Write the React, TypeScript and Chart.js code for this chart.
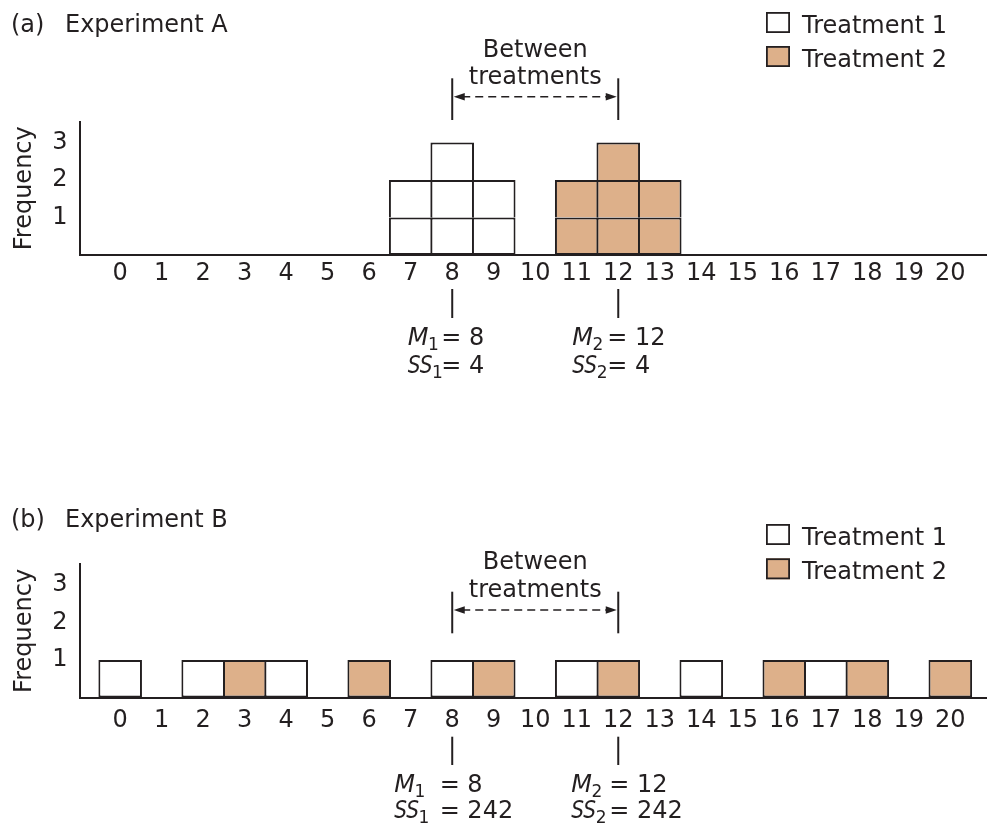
import React, { useEffect, useRef } from 'react';
import { Chart, registerables } from 'chart.js';

Chart.register(...registerables);

// ---------- data ----------
const xTicks = [0, 1, 2, 3, 4, 5, 6, 7, 8, 9, 10, 11, 12, 13, 14, 15, 16, 17, 18, 19, 20];
const yTicks = [1, 2, 3];
const xMin = -0.98;
const xMax = 20.86;
const yMax = 3.56;

// individual scores
const expATreatment1 = [7, 7, 8, 8, 8, 9, 9];
const expATreatment2 = [11, 11, 12, 12, 12, 13, 13];
const expBTreatment1 = [0, 2, 4, 8, 11, 14, 17];
const expBTreatment2 = [3, 6, 9, 12, 16, 18, 20];

const treatmentLabels = ['Treatment 1', 'Treatment 2'];
const treatmentColors = ['#ffffff', '#ddb08a'];
const panelLetters = ['(a)', '(b)'];
const panelNames = ['Experiment A', 'Experiment B'];
const yAxisTitle = 'Frequency';
const betweenLines = ['Between', 'treatments'];
const meanSymbol = 'M';
const ssSymbol = 'SS';

// ---------- style / layout ----------
const INK = '#231f20';
const FAMILY = '"DejaVu Sans", sans-serif';
const W = 988;
const H = 412;
const X_AXIS_H = 40;

const PANEL_LAYOUT = [
  {
    chartTop: 121.5, chartBottom: 255, xTickPad: 4, titleBase: 32, legendBase: 33, legendGap: 34,
    betweenBase: [56.7, 84], arrowY: 96.7, bracketTop: 78.3, bracketBottom: 120,
    markTop: 289, markBottom: 318, mBase: 345, ssBase: 373.3,
    nameOff: [-44.5, -46], eqOff: [-9, -9],
  },
  {
    chartTop: 152.3, chartBottom: 285.5, xTickPad: 9, titleBase: 114.7, legendBase: 133, legendGap: 34.3,
    betweenBase: [157.3, 185.3], arrowY: 198, bracketTop: 179.7, bracketBottom: 221.3,
    markTop: 324.7, markBottom: 353, mBase: 379.7, ssBase: 406,
    nameOff: [-58, -47], eqOff: [-10.6, -7],
  },
];

const groupsByPanel = [
  [expATreatment1, expATreatment2],
  [expBTreatment1, expBTreatment2],
];

const mean = (a: number[]) => a.reduce((s, v) => s + v, 0) / a.length;
const sumSq = (a: number[]) => {
  const m = mean(a);
  return a.reduce((s, v) => s + (v - m) * (v - m), 0);
};
const fmt = (v: number) => String(Math.round(v * 100) / 100);

function layersFromScores(scores: number[]) {
  const counts = new Map<number, number>();
  scores.forEach((s) => counts.set(s, (counts.get(s) || 0) + 1));
  const maxC = Math.max(...Array.from(counts.values()));
  const layers: { x: number; y: number }[][] = [];
  for (let k = 1; k <= maxC; k++) {
    layers.push(
      Array.from(counts.entries())
        .filter(([, c]) => c >= k)
        .map(([x]) => ({ x, y: 1 }))
    );
  }
  return layers;
}

function buildDatasets(groups: number[][]) {
  const ds: any[] = [];
  groups.forEach((scores, t) => {
    layersFromScores(scores).forEach((data, k) => {
      ds.push({
        label: `${treatmentLabels[t]} ${k + 1}`,
        data,
        backgroundColor: treatmentColors[t],
        borderColor: INK,
        borderWidth: { top: 2, left: 2, right: 2, bottom: k === 0 ? 2 : 0 },
        borderSkipped: false,
        barPercentage: 1.05,
        categoryPercentage: 1,
      });
    });
  });
  return ds;
}

function font(size: number, style = '') {
  return `${style} ${size}px ${FAMILY}`.trim();
}

function annotationPlugin(idx: number) {
  const p = PANEL_LAYOUT[idx];
  const groups = groupsByPanel[idx];
  return {
    id: 'annot' + idx,
    afterDraw(chart: any) {
      const ctx: CanvasRenderingContext2D = chart.ctx;
      const xs = chart.scales.x;
      ctx.save();
      ctx.textBaseline = 'alphabetic';
      ctx.textAlign = 'left';
      ctx.fillStyle = INK;
      ctx.strokeStyle = INK;

      // panel title
      ctx.font = font(24);
      ctx.fillText(panelLetters[idx], 11, p.titleBase);
      ctx.fillText(panelNames[idx], 65, p.titleBase);

      // legend
      treatmentLabels.forEach((lab, i) => {
        const base = p.legendBase + i * p.legendGap;
        ctx.fillStyle = treatmentColors[i];
        ctx.fillRect(766, base - 21, 24, 21);
        ctx.lineWidth = 1.8;
        ctx.strokeStyle = INK;
        ctx.strokeRect(766.9, base - 20.1, 22.2, 19.2);
        ctx.fillStyle = INK;
        ctx.font = font(24);
        ctx.fillText(lab, 802, base);
      });

      const means = groups.map(mean);
      const px = means.map((m) => xs.getPixelForValue(m));

      // between-treatments bracket
      ctx.lineWidth = 2;
      ctx.setLineDash([]);
      px.forEach((x) => {
        ctx.beginPath();
        ctx.moveTo(x, p.bracketTop);
        ctx.lineTo(x, p.bracketBottom);
        ctx.stroke();
      });
      ctx.lineWidth = 1.5;
      ctx.setLineDash([8, 5]);
      ctx.beginPath();
      ctx.moveTo(px[0] + 10, p.arrowY);
      ctx.lineTo(px[1] - 10, p.arrowY);
      ctx.stroke();
      ctx.setLineDash([]);
      const head = (tip: number, dir: number) => {
        ctx.beginPath();
        ctx.moveTo(tip, p.arrowY);
        ctx.lineTo(tip + dir * 11, p.arrowY - 3.8);
        ctx.lineTo(tip + dir * 11, p.arrowY + 3.8);
        ctx.closePath();
        ctx.fill();
      };
      head(px[0] + 1.5, 1);
      head(px[1] - 1.5, -1);
      ctx.textAlign = 'center';
      ctx.font = font(24);
      const mid = (px[0] + px[1]) / 2;
      ctx.fillText(betweenLines[0], mid, p.betweenBase[0]);
      ctx.fillText(betweenLines[1], mid, p.betweenBase[1]);
      ctx.textAlign = 'left';

      // mean markers and statistics
      groups.forEach((g, i) => {
        const cx = px[i];
        ctx.lineWidth = 2;
        ctx.beginPath();
        ctx.moveTo(cx, p.markTop);
        ctx.lineTo(cx, p.markBottom);
        ctx.stroke();
        const nameX = cx + p.nameOff[i];
        const eqX = cx + p.eqOff[i];
        const drawSub = (main: string, sub: string, base: number, squeeze: number) => {
          ctx.font = font(24, 'italic');
          const w = ctx.measureText(main).width * squeeze;
          ctx.save();
          ctx.translate(nameX, base);
          ctx.scale(squeeze, 1);
          ctx.fillText(main, 0, 0);
          ctx.restore();
          ctx.font = font(17);
          ctx.fillText(sub, nameX + w - 0.5, base + 5);
        };
        drawSub(meanSymbol, String(i + 1), p.mBase, 1);
        drawSub(ssSymbol, String(i + 1), p.ssBase, 0.84);
        ctx.font = font(24);
        ctx.fillText('= ' + fmt(means[i]), eqX - 2, p.mBase);
        ctx.fillText('= ' + fmt(sumSq(g)), eqX - 2, p.ssBase);
      });

      ctx.restore();
    },
  };
}

function makeConfig(idx: number): any {
  const p = PANEL_LAYOUT[idx];
  const tickFont = { family: FAMILY, size: 24 };
  return {
    type: 'bar',
    data: { datasets: buildDatasets(groupsByPanel[idx]) },
    options: {
      responsive: false,
      animation: false,
      devicePixelRatio: 1,
      events: [],
      layout: {
        padding: { left: 0, right: 2, top: p.chartTop, bottom: H - p.chartBottom - X_AXIS_H },
      },
      plugins: {
        legend: { display: false },
        tooltip: { enabled: false },
        title: { display: false },
      },
      scales: {
        x: {
          type: 'linear',
          min: xMin,
          max: xMax,
          offset: false,
          stacked: true,
          grid: { display: false, drawTicks: false, offset: false },
          border: { display: true, color: INK, width: 2 },
          ticks: { autoSkip: false, maxRotation: 0, minRotation: 0, padding: p.xTickPad, color: INK, font: tickFont },
          afterBuildTicks: (s: any) => {
            s.ticks = xTicks.map((v) => ({ value: v }));
          },
          afterFit: (s: any) => {
            s.height = X_AXIS_H;
          },
        },
        y: {
          type: 'linear',
          min: 0,
          max: yMax,
          stacked: true,
          grid: { display: false, drawTicks: false },
          border: { display: true, color: INK, width: 2 },
          ticks: { padding: 12, color: INK, font: tickFont },
          title: {
            display: true,
            text: yAxisTitle,
            color: INK,
            font: tickFont,
            padding: { top: 10, bottom: 0 },
          },
          afterBuildTicks: (s: any) => {
            s.ticks = yTicks.map((v) => ({ value: v }));
          },
          afterFit: (s: any) => {
            s.width = 79.5;
          },
        },
      },
    },
    plugins: [annotationPlugin(idx)],
  };
}

export default function App() {
  const refA = useRef<HTMLCanvasElement | null>(null);
  const refB = useRef<HTMLCanvasElement | null>(null);

  useEffect(() => {
    Chart.defaults.font.family = FAMILY;
    const charts: Chart[] = [];
    [refA, refB].forEach((r, i) => {
      if (r.current) charts.push(new Chart(r.current, makeConfig(i)));
    });
    return () => charts.forEach((c) => c.destroy());
  }, []);

  return (
    <div style={{ position: 'absolute', left: 0, top: 0, width: W, height: 2 * H, background: '#ffffff' }}>
      <canvas ref={refA} width={W} height={H} style={{ display: 'block', width: W, height: H }} />
      <canvas ref={refB} width={W} height={H} style={{ display: 'block', width: W, height: H }} />
    </div>
  );
}
